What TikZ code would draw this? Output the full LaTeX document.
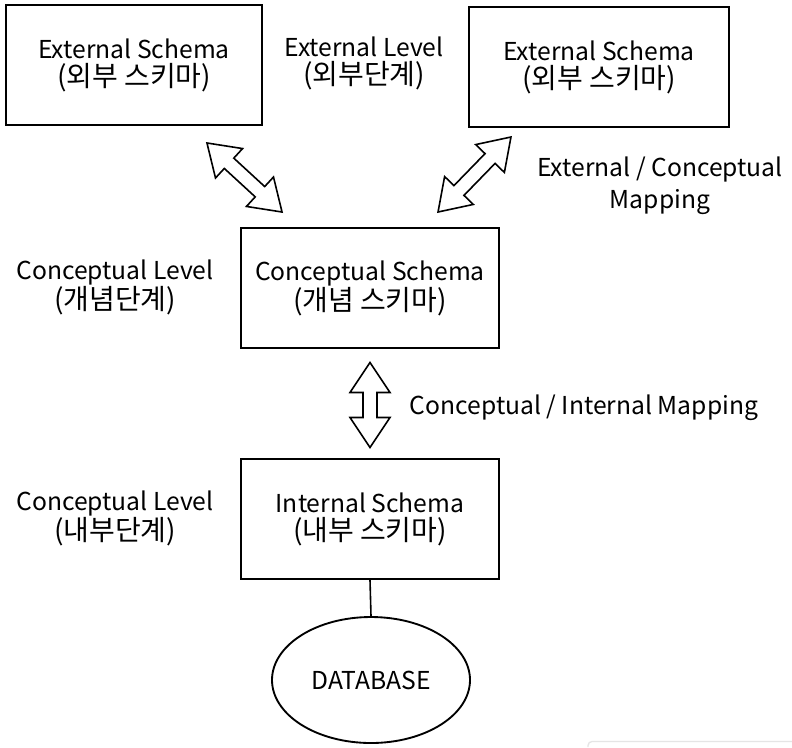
\documentclass[tikz,border=0pt]{standalone}
\usepackage{fontspec}
\setmainfont{Noto Sans CJK KR}
\usetikzlibrary{shapes.geometric}
\newcommand{\lat}{\fontsize{18.5}{21}\selectfont}
\newcommand{\kor}{\fontsize{21}{21}\selectfont}
\tikzset{
  schemabox/.style={draw, line width=1.4pt, minimum width=#1, minimum height=90pt, inner sep=0pt, align=center, font=\lat},
  lbl/.style={align=center, inner sep=0pt, font=\lat},
  blockarr/.style={draw, line width=1.2pt, fill=white, line join=miter},
}
\newcommand{\dblarrow}[1]{%
  \draw[blockarr] (-#1,0) -- (-#1+30,20) -- (-#1+30,7) -- (#1-30,7) -- (#1-30,20) -- (#1,0) -- (#1-30,-20) -- (#1-30,-7) -- (-#1+30,-7) -- (-#1+30,-20) -- cycle;}
\begin{document}
\begin{tikzpicture}[x=0.75pt,y=-0.75pt]
\useasboundingbox (0,0) rectangle (792,747);
\fill[white] (0,0) rectangle (792,747);
% boxes
\node[schemabox=192pt] (ext1) at (134,65) {External Schema\\{\kor(외부 스키마)}};
\node[schemabox=195pt] (ext2) at (599,67) {External Schema\\{\kor(외부 스키마)}};
\node[schemabox=193.5pt] (con) at (370,288) {Conceptual Schema\\{\kor(개념 스키마)}};
\node[schemabox=193.5pt] (int) at (370,519) {Internal Schema\\{\kor(내부 스키마)}};
\node[draw, ellipse, line width=1.4pt, minimum width=148.5pt, minimum height=94.5pt, inner sep=0pt, font=\lat] (db) at (371,680) {DATABASE};
\draw[line width=1.2pt] (int.south) -- (db.north);
% labels
\node[lbl] (extlvl) at (364,63) {External Level\\{\kor(외부단계)}};
\node[lbl] (conlvl) at (115,287) {Conceptual Level\\{\kor(개념단계)}};
\node[lbl] (intlvl) at (115,518) {Conceptual Level\\{\kor(내부단계)}};
\node[lbl] (ecmap) at (660,186) {External / Conceptual\\[3pt]Mapping};
\node[lbl] (cimap) at (584,408) {Conceptual / Internal Mapping};
% block arrows
\begin{scope}[shift={(244.5,177.5)}, rotate=-42.6] \dblarrow{51} \end{scope}
\begin{scope}[shift={(474.5,174.5)}, rotate=45.8] \dblarrow{52.3} \end{scope}
\begin{scope}[shift={(370,405)}, rotate=90] \dblarrow{42.5} \end{scope}
% faint corner at bottom right
\draw[gray!20, line width=1pt, rounded corners=3] (588,747) -- (588,741.5) -- (792,741.5);
\end{tikzpicture}
\end{document}
